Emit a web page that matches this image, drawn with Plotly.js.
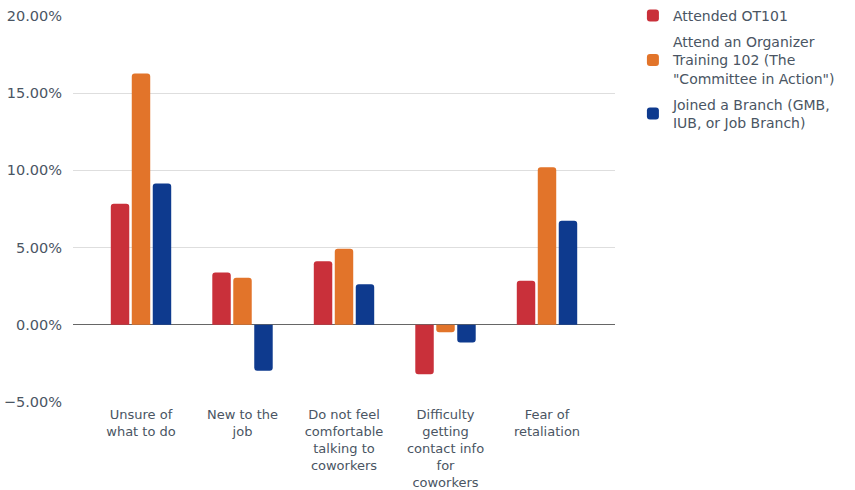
<!DOCTYPE html>
<html>
<head>
<meta charset="utf-8">
<script src="https://cdn.plot.ly/plotly-3.0.1.min.js"></script>
<style>html,body{margin:0;padding:0;background:#fff;}#chart{width:855px;height:490px;}</style>
</head>
<body>
<div id="chart"></div>
<script>
const categories = [
  "Unsure of<br>what to do",
  "New to the<br>job",
  "Do not feel<br>comfortable<br>talking to<br>coworkers",
  "Difficulty<br>getting<br>contact info<br>for<br>coworkers",
  "Fear of<br>retaliation"
];
const seriesNames = [
  "Attended OT101",
  "Attend an Organizer<br>Training 102 (The<br>\"Committee in Action\")",
  "Joined a Branch (GMB,<br>IUB, or Job Branch)"
];
const ot101 = [0.0784, 0.0339, 0.0412, -0.0320, 0.0285];
const ot102 = [0.1628, 0.0304, 0.0492, -0.0049, 0.1020];
const branch = [0.0915, -0.0298, 0.0263, -0.0114, 0.0674];
const colors = ["#c9303a", "#e2742a", "#0e3a8e"];

const values = [ot101, ot102, branch];
const traces = values.map((v, i) => ({
  type: "bar",
  x: categories,
  y: v,
  name: seriesNames[i],
  legendgroup: "g" + i,
  marker: {color: colors[i]},
  hoverinfo: "none"
}));

const fam = "DejaVu Sans, Verdana, sans-serif";
const col = "#4a5563";
Plotly.newPlot("chart", traces, {
  width: 855, height: 490,
  margin: {l: 73, r: 0, t: 0, b: 88, autoexpand: false},
  paper_bgcolor: "#fff", plot_bgcolor: "#fff",
  font: {family: fam, size: 14, color: col},
  barmode: "group",
  bargap: 0.38,
  bargroupgap: 0.12,
  barcornerradius: 3,
  showlegend: true,
  legend: {x: 0.716, y: 1.0, xanchor: "left", yanchor: "top", font: {family: fam, size: 14, color: col}, tracegroupgap: 5, itemwidth: 30},
  xaxis: {domain: [0, 0.6931], range: [-0.67, 4.67], showgrid: false, zeroline: false, showline: false, ticks: "",
          tickfont: {family: fam, size: 13, color: col}, ticklabelstandoff: 3, fixedrange: true},
  yaxis: {domain: [0, 0.9602], range: [-0.05, 0.2], dtick: 0.05, tick0: 0, tickformat: ".2%", showgrid: true, gridcolor: "#dedede", gridwidth: 1,
          zeroline: true, zerolinecolor: "#666", zerolinewidth: 1, showline: false, ticks: "",
          tickfont: {family: fam, size: 14.5, color: col}, ticklabelstandoff: 10, fixedrange: true}
}, {displayModeBar: false, staticPlot: true});
</script>
</body>
</html>
